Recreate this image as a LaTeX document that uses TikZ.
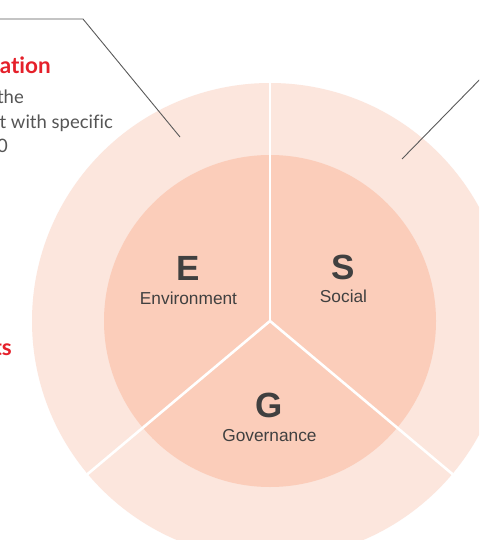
\documentclass[tikz,border=0pt]{standalone}
\usepackage{fontspec}
\setmainfont{Liberation Sans}
\newfontfamily\latofont[Ligatures=NoCommon]{Lato}
\usetikzlibrary{calc}
\definecolor{outerc}{HTML}{FCE6DD}
\definecolor{innerc}{HTML}{FBCDBA}
\definecolor{labelc}{HTML}{404040}
\definecolor{parac}{HTML}{555555}
\definecolor{redc}{HTML}{E5202A}
\definecolor{linec}{HTML}{5A5A5A}
\tikzset{
  divider/.style={draw=white, line width=2.6pt},
  callout/.style={draw=linec, line width=0.9pt},
  bigletter/.style={text=labelc, inner sep=0pt, anchor=base, font=\fontsize{35}{35}\selectfont\bfseries},
  smalllabel/.style={text=labelc, inner sep=0pt, anchor=base, font=\fontsize{17.3}{17}\selectfont},
  para/.style={text=parac, inner sep=0pt, anchor=base east, font=\latofont\fontsize{18.5}{24}\selectfont},
  redhead/.style={text=redc, inner sep=0pt, anchor=base east, font=\latofont\bfseries\fontsize{22.5}{24}\selectfont}
}
\begin{document}
\begin{tikzpicture}[x=1pt,y=-1pt]
\useasboundingbox (0,0) rectangle (479,540);
\clip (0,0) rectangle (479,540);
\fill[white] (0,0) rectangle (479,540);
\coordinate (c) at (270,321);
\fill[outerc] (c) circle (238pt);
\fill[innerc] (c) circle (166pt);
\coordinate (dTop) at ($(c)+(90:239pt)$);
\coordinate (dLeft) at ($(c)+(-140:239pt)$);
\coordinate (dRight) at ($(c)+(-40:239pt)$);
\draw[divider] (c) -- (dTop);
\draw[divider] (c) -- (dLeft);
\draw[divider] (c) -- (dRight);
% labels
\node[bigletter] (E) at (188.5,280) {E};
\node[smalllabel] (Env) at (188.5,304) {Environment};
\node[bigletter] (S) at (343.5,279) {S};
\node[smalllabel] (Soc) at (343.5,302) {Social};
\node[bigletter] (G) at (269,417) {G};
\node[smalllabel] (Gov) at (269.5,441) {Governance};
% left texts
\node[redhead] (h1) at (51,74) {ation};
\node[para] (p1) at (24,104) {the};
\node[para] (p2) at (113,129) {t with specific};
\node[para] (p3) at (8,153) {0};
\node[redhead] (h2) at (12,355) {ts};
% callouts
\coordinate (a1) at (-5,19);
\coordinate (a2) at (83,19);
\coordinate (a3) at (180,137);
\draw[callout] (a1) -- (a2) -- (a3);
\coordinate (b1) at (402,159);
\coordinate (b2) at (490,69);
\draw[callout] (b1) -- (b2);
\end{tikzpicture}
\end{document}
